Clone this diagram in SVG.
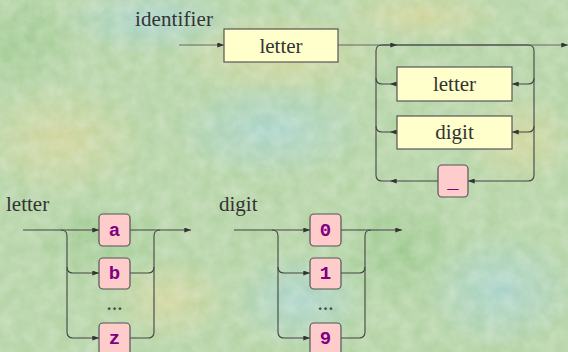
<svg xmlns="http://www.w3.org/2000/svg" width="568" height="352" viewBox="0 0 568 352">
  <defs>
    <style>
      .lbl { font-family: "Liberation Serif", "DejaVu Serif", "Times New Roman", Times, serif; font-size: 21px; fill: #333; }
      .ntxt { font-family: "Liberation Serif", "DejaVu Serif", "Times New Roman", Times, serif; font-size: 21px; fill: #333; text-anchor: middle; }
      .term { font-family: "Liberation Mono", "DejaVu Sans Mono", "Courier New", monospace; font-size: 19px; font-weight: bold; fill: #800080; text-anchor: middle; }
      .nt { fill: #ffffcc; stroke: #555; stroke-width: 1.2; }
      .t { fill: #ffcccc; stroke: #555; stroke-width: 1.2; }
      .ln { fill: none; stroke: #444; stroke-width: 1.1; }
      .thin { fill: none; stroke: #666; stroke-width: 1; }
      .dots { font-family: "Liberation Serif", "DejaVu Serif", serif; font-size: 16px; font-weight: bold; fill: #444; text-anchor: middle; }
    </style>
    <marker id="ah" viewBox="0 0 8 6" refX="8" refY="3" markerWidth="7" markerHeight="5" markerUnits="userSpaceOnUse" orient="auto">
      <path d="M0,0 L8,3 L0,6 z" fill="#333"/>
    </marker>
    <radialGradient id="py" cx="50%" cy="50%" r="50%">
      <stop offset="0" stop-color="#d4d69c" stop-opacity="0.9"/>
      <stop offset="1" stop-color="#d4d69c" stop-opacity="0"/>
    </radialGradient>
    <radialGradient id="pb" cx="50%" cy="50%" r="50%">
      <stop offset="0" stop-color="#a8d3cd" stop-opacity="0.9"/>
      <stop offset="1" stop-color="#a8d3cd" stop-opacity="0"/>
    </radialGradient>
    <radialGradient id="pg" cx="50%" cy="50%" r="50%">
      <stop offset="0" stop-color="#9cc98e" stop-opacity="0.9"/>
      <stop offset="1" stop-color="#9cc98e" stop-opacity="0"/>
    </radialGradient>
    <filter id="grain" x="0" y="0" width="100%" height="100%">
      <feTurbulence type="fractalNoise" baseFrequency="0.07" numOctaves="3" seed="4"/>
      <feColorMatrix type="matrix" values="0 0 0 0 1  0 0 0 0 1  0 0 0 0 1  0 0 0 -1.4 1.1"/>
    </filter>
  </defs>

  <!-- mottled paper background -->
  <g id="background">
    <rect width="568" height="352" fill="#b5d4a6"/>
    <ellipse cx="280" cy="55" rx="110" ry="45" fill="url(#py)"/>
    <ellipse cx="60" cy="140" rx="90" ry="60" fill="url(#py)"/>
    <ellipse cx="420" cy="15" rx="90" ry="30" fill="url(#py)"/>
    <ellipse cx="170" cy="300" rx="60" ry="45" fill="url(#py)"/>
    <ellipse cx="520" cy="140" rx="60" ry="50" fill="url(#py)"/>
    <ellipse cx="270" cy="130" rx="100" ry="50" fill="url(#pb)"/>
    <ellipse cx="150" cy="20" rx="90" ry="35" fill="url(#pb)"/>
    <ellipse cx="500" cy="290" rx="80" ry="60" fill="url(#pb)"/>
    <ellipse cx="300" cy="300" rx="70" ry="50" fill="url(#pb)"/>
    <ellipse cx="100" cy="240" rx="70" ry="40" fill="url(#pg)"/>
    <ellipse cx="400" cy="250" rx="70" ry="60" fill="url(#pg)"/>
    <ellipse cx="20" cy="40" rx="60" ry="50" fill="url(#pg)"/>
    <rect width="568" height="352" filter="url(#grain)" opacity="0.28"/>
  </g>

  <!-- rule titles -->
  <g id="titles">
    <text class="lbl" x="135" y="26" textLength="78">identifier</text>
    <text class="lbl" x="6" y="211">letter</text>
    <text class="lbl" x="219" y="211">digit</text>
  </g>

  <!-- connectors -->
  <g id="connectors">
    <!-- identifier -->
    <path class="thin" d="M179,45 H224" marker-end="url(#ah)"/>
    <path class="thin" d="M338,45 H568" marker-end="url(#ah)"/>
    <path class="ln" d="M382,45 H397" marker-end="url(#ah)"/>
    <path class="ln" d="M397,45 H528 Q534,45 534,51 V175 Q534,181 528,181 H468" marker-end="url(#ah)"/>
    <path class="ln" d="M534,78 Q534,84 528,84 H512" marker-end="url(#ah)"/>
    <path class="ln" d="M534,126 Q534,132 528,132 H512" marker-end="url(#ah)"/>
    <path class="ln" d="M397,84 H390" marker-end="url(#ah)"/>
    <path class="ln" d="M390,84 H382 Q376,84 376,78"/>
    <path class="ln" d="M397,132 H390" marker-end="url(#ah)"/>
    <path class="ln" d="M390,132 H382 Q376,132 376,126"/>
    <path class="ln" d="M438,181 H390" marker-end="url(#ah)"/>
    <path class="ln" d="M390,181 H382 Q376,181 376,175 V51 Q376,45 382,45"/>

    <!-- letter -->
    <path class="ln" d="M23,230 H99" marker-end="url(#ah)"/>
    <path class="ln" d="M61,230 Q67,230 67,236 V332 Q67,338 73,338 H99" marker-end="url(#ah)"/>
    <path class="ln" d="M67,267 Q67,273 73,273 H99" marker-end="url(#ah)"/>
    <path class="ln" d="M130,230 H191" marker-end="url(#ah)"/>
    <path class="ln" d="M130,338 H148 Q154,338 154,332 V236 Q154,230 160,230"/>
    <path class="ln" d="M130,273 H148 Q154,273 154,267"/>

    <!-- digit -->
    <g transform="translate(211,0)">
      <path class="ln" d="M23,230 H99" marker-end="url(#ah)"/>
      <path class="ln" d="M61,230 Q67,230 67,236 V332 Q67,338 73,338 H99" marker-end="url(#ah)"/>
      <path class="ln" d="M67,267 Q67,273 73,273 H99" marker-end="url(#ah)"/>
      <path class="ln" d="M130,230 H191" marker-end="url(#ah)"/>
      <path class="ln" d="M130,338 H148 Q154,338 154,332 V236 Q154,230 160,230"/>
      <path class="ln" d="M130,273 H148 Q154,273 154,267"/>
    </g>
  </g>

  <!-- identifier nodes -->
  <g id="id-letter">
    <rect class="nt" x="224" y="29" width="114" height="33"/>
    <text class="ntxt" x="281" y="53">letter</text>
  </g>
  <g id="loop-letter">
    <rect class="nt" x="397" y="67" width="115" height="34"/>
    <text class="ntxt" x="454.5" y="91">letter</text>
  </g>
  <g id="loop-digit">
    <rect class="nt" x="397" y="116" width="115" height="33"/>
    <text class="ntxt" x="454.5" y="139">digit</text>
  </g>
  <g id="loop-underscore">
    <rect class="t" x="438" y="165" width="30" height="32" rx="4"/>
    <text class="term" x="453" y="188">_</text>
  </g>

  <!-- letter nodes -->
  <g id="letter-a">
    <rect class="t" x="99" y="214" width="31" height="32" rx="4"/>
    <text class="term" x="114.5" y="236">a</text>
  </g>
  <g id="letter-b">
    <rect class="t" x="99" y="258" width="31" height="31" rx="4"/>
    <text class="term" x="114.5" y="279">b</text>
  </g>
  <g id="letter-dots">
    <text class="dots" x="114.5" y="310">…</text>
  </g>
  <g id="letter-z">
    <rect class="t" x="99" y="323" width="31" height="32" rx="4"/>
    <text class="term" x="114.5" y="344">z</text>
  </g>

  <!-- digit nodes -->
  <g id="digit-0">
    <rect class="t" x="310" y="214" width="31" height="32" rx="4"/>
    <text class="term" x="325.5" y="236">0</text>
  </g>
  <g id="digit-1">
    <rect class="t" x="310" y="258" width="31" height="31" rx="4"/>
    <text class="term" x="325.5" y="279">1</text>
  </g>
  <g id="digit-dots">
    <text class="dots" x="325.5" y="310">…</text>
  </g>
  <g id="digit-9">
    <rect class="t" x="310" y="323" width="31" height="32" rx="4"/>
    <text class="term" x="325.5" y="344">9</text>
  </g>
</svg>
